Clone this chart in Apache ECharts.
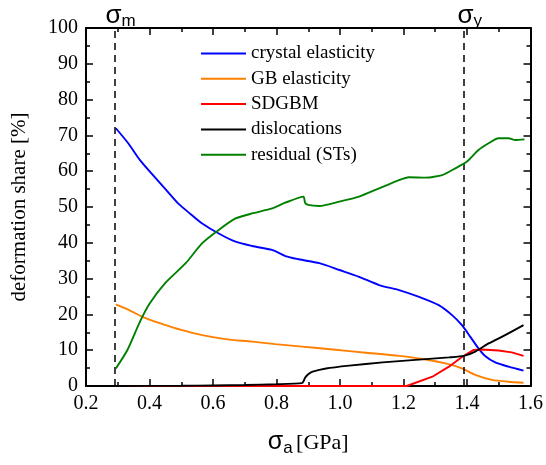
<!DOCTYPE html>
<html>
<head>
<meta charset="utf-8">
<script src="https://cdn.jsdelivr.net/npm/echarts@6/dist/echarts.min.js"></script>
<style>html,body{margin:0;padding:0;background:#fff;}#c{width:546px;height:465px;}</style>
</head>
<body>
<div id="c"></div>
<script>
// ---- data ----
const seriesNames = ['crystal elasticity', 'GB elasticity', 'SDGBM', 'dislocations', 'residual (STs)'];
const seriesColors = ['#0000ff', '#ff8000', '#ff0000', '#000000', '#008000'];

const crystalX = [0.294, 0.333, 0.370, 0.411, 0.453, 0.490, 0.530, 0.566, 0.618, 0.671, 0.723, 0.786, 0.828, 0.870, 0.935, 0.998, 1.060, 1.123, 1.186, 1.249, 1.311, 1.353, 1.384, 1.410, 1.436, 1.457, 1.489, 1.531, 1.578];
const crystalY = [72.0, 67.8, 63.1, 58.9, 54.7, 51.0, 48.0, 45.4, 42.6, 40.3, 39.1, 38.0, 36.3, 35.4, 34.3, 32.4, 30.5, 28.2, 26.8, 24.9, 22.6, 19.8, 17.0, 13.8, 10.5, 8.4, 6.6, 5.4, 4.3];

const gbX = [0.294, 0.336, 0.383, 0.441, 0.503, 0.566, 0.639, 0.723, 0.796, 0.880, 0.977, 1.082, 1.186, 1.270, 1.333, 1.384, 1.426, 1.478, 1.541, 1.578];
const gbY = [22.8, 21.2, 19.1, 17.3, 15.6, 14.2, 13.1, 12.4, 11.7, 11.0, 10.2, 9.3, 8.4, 7.4, 6.3, 4.9, 3.1, 1.7, 1.1, 0.9];

const sdgbmX = [0.294, 1.210, 1.291, 1.343, 1.384, 1.421, 1.447, 1.499, 1.541, 1.578];
const sdgbmY = [0.0, 0.0, 2.6, 5.4, 8.1, 10.1, 10.2, 9.9, 9.4, 8.4];

const dislX = [0.294, 0.500, 0.600, 0.700, 0.800, 0.880, 0.886, 0.890, 0.900, 0.914, 0.956, 1.029, 1.134, 1.238, 1.343, 1.390, 1.426, 1.468, 1.520, 1.578];
const dislY = [0.0, 0.05, 0.15, 0.3, 0.5, 0.8, 1.5, 2.3, 3.3, 4.0, 4.9, 5.7, 6.6, 7.3, 8.0, 8.4, 9.6, 11.9, 14.2, 17.0];

const residX = [0.294, 0.330, 0.370, 0.400, 0.450, 0.514, 0.566, 0.618, 0.671, 0.723, 0.786, 0.828, 0.885, 0.890, 0.900, 0.935, 0.998, 1.060, 1.123, 1.186, 1.217, 1.270, 1.322, 1.363, 1.400, 1.436, 1.468, 1.499, 1.531, 1.552, 1.581];
const residY = [4.9, 10.0, 18.0, 23.0, 28.8, 34.3, 39.9, 43.6, 46.8, 48.2, 49.6, 51.2, 52.9, 51.2, 50.6, 50.3, 51.5, 52.9, 55.2, 57.5, 58.3, 58.2, 58.9, 60.8, 62.7, 65.9, 67.8, 69.2, 69.2, 68.7, 68.9];

const sigmaM = 0.294;   // dashed marker σm
const sigmaY = 1.387;   // dashed marker σy

const xTicks = { min: 0.2, max: 1.6, interval: 0.2 };
const yTicks = { min: 0, max: 100, interval: 10 };

// ---- chart ----
const serif = 'Liberation Serif';
const sans = 'Liberation Sans';
const zip = (xs, ys) => xs.map((x, i) => [x, ys[i]]);
const allX = [crystalX, gbX, sdgbmX, dislX, residX];
const allY = [crystalY, gbY, sdgbmY, dislY, residY];
const smoothness = [0.25, 0.25, 0, 0.2, 0.2];

const tickCommon = {
  axisLine: { show: true, onZero: false, lineStyle: { color: '#000', width: 2 } },
  axisTick: { show: true, inside: true, length: 7, lineStyle: { color: '#000', width: 1.5 } },
  minorTick: { show: true, splitNumber: 2, length: 4, lineStyle: { color: '#000', width: 1.5 } },
  splitLine: { show: false },
  minorSplitLine: { show: false }
};

const series = seriesNames.map((name, i) => ({
  name,
  type: 'line',
  data: zip(allX[i], allY[i]),
  symbol: 'none',
  showSymbol: false,
  smooth: smoothness[i],
  color: seriesColors[i],
  lineStyle: { color: seriesColors[i], width: 1.9 },
  z: 3 + i
}));

series[0].markLine = {
  silent: true,
  symbol: ['none', 'none'],
  lineStyle: { color: '#000', type: [7, 5], width: 1.5 },
  label: {
    show: true,
    position: 'end',
    distance: 1,
    padding: [0, 0, 0, 12],
    rich: {
      s: { fontFamily: sans, fontSize: 26, color: '#000', verticalAlign: 'top', lineHeight: 24 },
      sub: { fontFamily: sans, fontSize: 17, color: '#000', verticalAlign: 'top', lineHeight: 17, padding: [10, 0, 0, 0] }
    }
  },
  data: [
    { xAxis: sigmaM, label: { formatter: '{s|σ}{sub|m}' } },
    { xAxis: sigmaY, label: { formatter: '{s|σ}{sub|y}' } }
  ]
};

const chart = echarts.init(document.getElementById('c'), null, { renderer: 'canvas' });
chart.setOption({
  backgroundColor: '#fff',
  animation: false,
  grid: { left: 86, right: 14, top: 28, bottom: 79, containLabel: false },
  legend: {
    orient: 'vertical',
    left: 201,
    top: 44,
    padding: 0,
    icon: 'rect',
    itemWidth: 45,
    itemHeight: 2,
    itemGap: 6.3,
    data: seriesNames,
    textStyle: { fontFamily: serif, fontSize: 19, color: '#000', lineHeight: 19 }
  },
  xAxis: [
    Object.assign({
      type: 'value', position: 'bottom', min: xTicks.min, max: xTicks.max, interval: xTicks.interval,
      name: '{s|σ}{sub|a} {t|[GPa]}',
      nameLocation: 'middle', nameGap: 44,
      nameTextStyle: {
        rich: {
          s: { fontFamily: sans, fontSize: 25, color: '#000', verticalAlign: 'top', lineHeight: 24 },
          sub: { fontFamily: sans, fontSize: 17, color: '#000', verticalAlign: 'top', lineHeight: 17, padding: [10, 0, 0, 0] },
          t: { fontFamily: serif, fontSize: 22, color: '#000', verticalAlign: 'top', lineHeight: 22, padding: [2, 0, 0, 0] }
        }
      },
      axisLabel: { show: true, margin: 8, fontFamily: serif, fontSize: 20, color: '#000', formatter: v => v.toFixed(1) }
    }, tickCommon),
    Object.assign({
      type: 'value', position: 'top', min: xTicks.min, max: xTicks.max, interval: xTicks.interval,
      axisLabel: { show: false }
    }, tickCommon)
  ],
  yAxis: [
    Object.assign({
      type: 'value', position: 'left', min: yTicks.min, max: yTicks.max, interval: yTicks.interval,
      name: 'deformation share [%]', nameLocation: 'middle', nameGap: 56, nameRotate: 90,
      nameTextStyle: { fontFamily: serif, fontSize: 21, color: '#000' },
      axisLabel: { show: true, margin: 8, fontFamily: serif, fontSize: 20, color: '#000' }
    }, tickCommon),
    Object.assign({
      type: 'value', position: 'right', min: yTicks.min, max: yTicks.max, interval: yTicks.interval,
      axisLabel: { show: false }
    }, tickCommon)
  ],
  series
});
</script>
</body>
</html>
